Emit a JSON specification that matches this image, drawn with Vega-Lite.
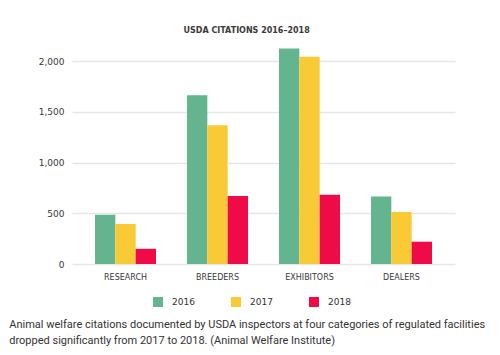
{
  "$schema": "https://vega.github.io/schema/vega-lite/v6.json",
  "padding": {"left": 9, "top": 27, "right": 5, "bottom": 5},
  "background": "white",
  "title": {
    "text": ["Animal welfare citations documented by USDA inspectors at four categories of regulated facilities", "dropped significantly from 2017 to 2018. (Animal Welfare Institute)"],
    "orient": "bottom",
    "anchor": "start",
    "frame": "bounds",
    "font": "Roboto",
    "fontSize": 11,
    "fontWeight": "normal",
    "color": "#333333",
    "lineHeight": 16,
    "offset": 12,
    "dx": -29
  },
  "vconcat": [
    {
      "title": {
        "text": "USDA CITATIONS 2016–2018",
        "anchor": "middle",
        "frame": "bounds",
        "font": "DejaVu Sans",
        "fontSize": 8,
        "fontWeight": "bold",
        "color": "#3a3a3a",
        "offset": 6
      },
      "width": 383,
      "height": 223,
      "data": {
        "values": [
          {"category": "RESEARCH", "year": "2016", "citations": 485},
          {"category": "RESEARCH", "year": "2017", "citations": 395},
          {"category": "RESEARCH", "year": "2018", "citations": 150},
          {"category": "BREEDERS", "year": "2016", "citations": 1665},
          {"category": "BREEDERS", "year": "2017", "citations": 1370},
          {"category": "BREEDERS", "year": "2018", "citations": 670},
          {"category": "EXHIBITORS", "year": "2016", "citations": 2125},
          {"category": "EXHIBITORS", "year": "2017", "citations": 2045},
          {"category": "EXHIBITORS", "year": "2018", "citations": 683},
          {"category": "DEALERS", "year": "2016", "citations": 667},
          {"category": "DEALERS", "year": "2017", "citations": 513},
          {"category": "DEALERS", "year": "2018", "citations": 220}
        ]
      },
      "mark": {"type": "bar"},
      "encoding": {
        "x": {
          "field": "category",
          "type": "nominal",
          "sort": ["RESEARCH", "BREEDERS", "EXHIBITORS", "DEALERS"],
          "scale": {"paddingInner": 0.337, "paddingOuter": 0.25},
          "axis": {
            "title": null,
            "labelAngle": 0,
            "domain": false,
            "ticks": false,
            "labelPadding": 9,
            "labelFont": "DejaVu Sans",
            "labelFontSize": 8,
            "labelColor": "#3a3a3a"
          }
        },
        "xOffset": {
          "field": "year",
          "type": "nominal",
          "scale": {"paddingInner": 0, "paddingOuter": 0}
        },
        "y": {
          "field": "citations",
          "type": "quantitative",
          "scale": {"domain": [0, 2200], "nice": false},
          "axis": {
            "title": null,
            "values": [0, 500, 1000, 1500, 2000],
            "format": ",.0f",
            "domain": false,
            "ticks": false,
            "labelPadding": 8,
            "labelFont": "DejaVu Sans",
            "labelFontSize": 9,
            "labelColor": "#3a3a3a",
            "gridColor": "#e6e6e6",
            "gridWidth": 1.5
          }
        },
        "color": {
          "field": "year",
          "type": "nominal",
          "scale": {"domain": ["2016", "2017", "2018"], "range": ["#63b48f", "#f8cb36", "#ef0a48"]},
          "legend": {
            "title": null,
            "orient": "none",
            "legendX": 81,
            "legendY": 256,
            "direction": "horizontal",
            "symbolType": "square",
            "symbolSize": 100,
            "symbolStrokeWidth": 0,
            "symbolOpacity": 1,
            "labelFont": "DejaVu Sans",
            "labelFontSize": 9,
            "labelColor": "#333333",
            "labelOffset": 9,
            "columnPadding": 36
          }
        }
      }
    }
  ],
  "config": {
    "view": {"stroke": null}
  }
}
